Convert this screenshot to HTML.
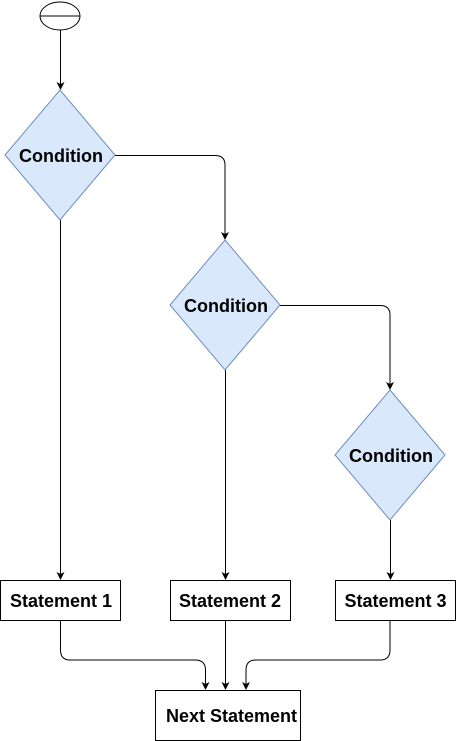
<!DOCTYPE html>
<html><head><meta charset="utf-8"><style>
html,body{margin:0;padding:0;background:#fff;width:456px;height:741px;overflow:hidden}
text{font-family:"Liberation Sans",sans-serif;font-weight:bold;font-size:18px;fill:#000}
</style></head><body>
<svg width="456" height="741" viewBox="0 0 456 741" xmlns="http://www.w3.org/2000/svg">
<defs><marker id="a" markerWidth="8" markerHeight="8" refX="7" refY="4" orient="auto" markerUnits="userSpaceOnUse"><path d="M0,0 L8,4 L0,8 L2,4 z" fill="#000"/></marker></defs>
<ellipse cx="60" cy="16" rx="20" ry="14" fill="#fff" stroke="#000"/>
<line x1="40" y1="16" x2="80" y2="16" stroke="#000"/>
<g stroke="#000" fill="none" stroke-width="1">
<path d="M60.5,30 V89" marker-end="url(#a)"/>
<path d="M115,155.5 H215 Q225,155.5 225,165 V239" marker-end="url(#a)"/>
<path d="M280,305.5 H380 Q390,305.5 390,315 V389" marker-end="url(#a)"/>
<path d="M60.5,220 V579" marker-end="url(#a)"/>
<path d="M225.5,370 V579" marker-end="url(#a)"/>
<path d="M390.5,520 V579" marker-end="url(#a)"/>
<path d="M60.5,620 V650 Q60.5,660 70,660 H195 Q205.5,660 205.5,670 V689" marker-end="url(#a)"/>
<path d="M225.5,620 V689" marker-end="url(#a)"/>
<path d="M390,620 V650 Q390,660 380,660 H256 Q246,660 246,670 V689" marker-end="url(#a)"/>
</g>
<g fill="#dae8fc" stroke="#6c8ebf">
<polygon points="60,90 115,155 60,220 5,155"/>
<polygon points="225,240 280,305 225,370 170,305"/>
<polygon points="390,390 445,455 390,520 335,455"/>
</g>
<g fill="#fff" stroke="#000">
<rect x="0.5" y="580.5" width="120" height="40"/>
<rect x="170.5" y="580.5" width="120" height="40"/>
<rect x="335.5" y="580.5" width="120" height="40"/>
<rect x="155.5" y="690.5" width="145" height="50"/>
</g>
<g text-anchor="middle">
<text x="61" y="162">Condition</text>
<text x="226" y="312">Condition</text>
<text x="391" y="462">Condition</text>
<text x="61" y="607">Statement 1</text>
<text x="230" y="607">Statement 2</text>
<text x="395.5" y="607">Statement 3</text>
<text x="231.5" y="722">Next Statement</text>
</g>
</svg>
</body></html>
